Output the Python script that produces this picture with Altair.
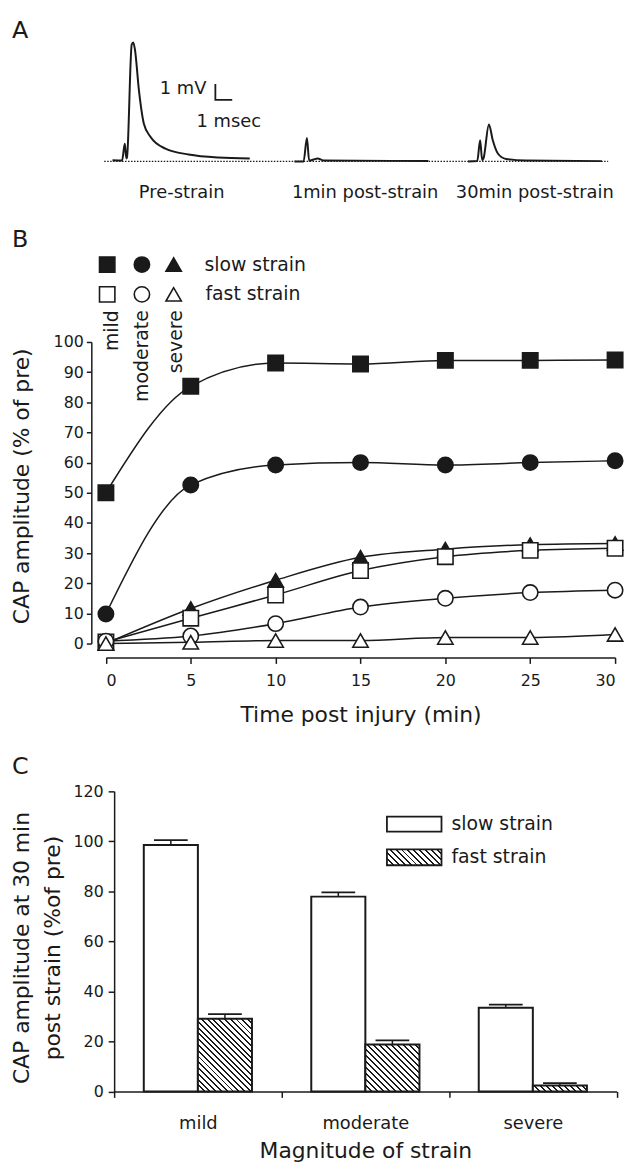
import altair as alt
import pandas as pd

FONT = "DejaVu Sans"
INK = "#1a1a1a"

# ---------------- Panel A: CAP traces (time in ms, amplitude in mV)
pre_t = [0.49, 1.06, 1.22, 1.31, 1.35, 1.63, 1.72, 1.82, 2.06, 2.35, 2.75, 3.63, 5.0, 6.76, 8.63]
pre_v = [0.08, 0.06, 1.12, 0.19, 0.25, 7.37, 7.5, 7.06, 4.46, 2.38, 1.54, 0.81, 0.44, 0.25, 0.19]
m1_t = [11.28, 11.82, 12.02, 12.15, 12.41, 12.65, 13.0, 19.22]
m1_v = [0.0, 0.0, 1.48, 0.05, 0.12, 0.19, 0.06, 0.03]
m30_t = [21.57, 22.12, 22.29, 22.41, 22.49, 22.81, 23.04, 23.34, 23.82, 25.0, 29.51]
m30_v = [0.0, 0.03, 1.33, 0.08, 0.19, 2.33, 1.33, 0.5, 0.16, 0.06, 0.02]
trace_names = ["Pre-strain", "1min post-strain", "30min post-strain"]
trace_label_t = [4.59, 15.47, 25.53]
baseline_t = [0.0, 29.88]
scalebar_t = [6.59, 6.59, 7.59]
scalebar_v = [4.875, 3.875, 3.875]

# ---------------- Panel B: recovery time course (% of pre)
times = [0, 5, 10, 15, 20, 25, 30]
slow_mild = [50.0, 85.3, 93.0, 92.7, 93.9, 93.9, 94.0]
slow_moderate = [9.8, 52.6, 59.2, 60.0, 59.2, 60.0, 60.6]
slow_severe = [0.0, 11.6, 21.0, 28.6, 31.3, 32.8, 33.2]
fast_mild = [0.5, 8.4, 16.1, 24.2, 28.8, 30.9, 31.6]
fast_moderate = [0.8, 2.5, 6.6, 12.1, 15.0, 16.9, 17.7]
fast_severe = [0.0, 0.4, 1.0, 1.0, 2.0, 2.0, 3.0]
severities = ["mild", "moderate", "severe"]
strains = ["slow", "fast"]

# ---------------- Panel C: amplitude at 30 min
slow_30 = [98.5, 77.9, 33.5]
slow_sem = [2.0, 1.7, 1.2]
fast_30 = [29.1, 18.8, 2.4]
fast_sem = [1.8, 1.6, 0.9]

# ---------------- styles / layout (pixels, relative to each plot area)
SHAPES = ["square", "circle", "triangle-up"]
FILLS = [INK, "white"]
common = dict(domainColor=INK, domainWidth=1.5, tickColor=INK, tickWidth=1.5,
              labelFont=FONT, labelColor=INK, titleFont=FONT, titleFontSize=22,
              titleFontWeight="normal", titleColor=INK, grid=False)


def hatch(w, h, spacing=4.2, frac=0.33):
    k = (w + h) / (w * w + h * h)
    n = max(1, round((w + h) / 1.4142 / spacing))
    stops = []
    for i in range(n):
        a, b, c = i / n, (i + frac) / n, (i + 1) / n
        stops += [alt.GradientStop(offset=a, color=INK), alt.GradientStop(offset=b, color=INK),
                  alt.GradientStop(offset=b, color="white"), alt.GradientStop(offset=c, color="white")]
    return alt.LinearGradient(gradient="linear", stops=stops, x1=0, y1=1, x2=k * w, y2=1 - k * h)


def letter(ch, px, py):
    return alt.Chart(pd.DataFrame({"s": [ch]})).mark_text(
        font=FONT, fontSize=24, color=INK, align="left", baseline="alphabetic").encode(
        text="s:N", x=alt.value(px), y=alt.value(py))


def anchor(top, bottom):
    # invisible frame line fixing the layout bounds of a panel
    return alt.Chart(pd.DataFrame({"a": [0]})).mark_rule(opacity=0, strokeOpacity=0).encode(
        x=alt.value(-107), x2=alt.value(-107), y=alt.value(top), y2=alt.value(bottom))


# ================= Panel A
rows = []
for name, ts, vs in [(trace_names[0], pre_t, pre_v), (trace_names[1], m1_t, m1_v), (trace_names[2], m30_t, m30_v)]:
    for i, (t, v) in enumerate(zip(ts, vs)):
        rows.append({"trace": name, "t": t, "v": v, "i": i})
dfA = pd.DataFrame(rows)
sxA = alt.Scale(domain=[0, 29.88], range=[-10, 498], nice=False, zero=False)
syA = alt.Scale(domain=[0, 8], nice=False, zero=False)
xA = alt.X("t:Q", scale=sxA, axis=None)
yA = alt.Y("v:Q", scale=syA, axis=None)

baseA = alt.Chart(pd.DataFrame({"t": [baseline_t[0]], "t2": [baseline_t[1]], "v": [0.0]})).mark_rule(
    color=INK, strokeWidth=1.3, strokeDash=[1.5, 1.5]).encode(x=xA, x2="t2:Q", y=yA)
tracesA = alt.Chart(dfA).mark_line(color=INK, strokeWidth=2, interpolate="monotone").encode(
    x=xA, y=yA, detail="trace:N", order="i:Q")
sbA = alt.Chart(pd.DataFrame({"t": scalebar_t, "v": scalebar_v, "i": [0, 1, 2]})).mark_line(
    color=INK, strokeWidth=1.8).encode(x=xA, y=yA, order="i:Q")
sbTxt1 = alt.Chart(pd.DataFrame({"t": [6.06], "v": [4.56], "s": ["1 mV"]})).mark_text(
    font=FONT, fontSize=18, color=INK, align="right", baseline="middle").encode(x=xA, y=yA, text="s:N")
sbTxt2 = alt.Chart(pd.DataFrame({"t": [5.47], "v": [2.5], "s": ["1 msec"]})).mark_text(
    font=FONT, fontSize=18, color=INK, align="left", baseline="middle").encode(x=xA, y=yA, text="s:N")
labA = alt.Chart(pd.DataFrame({"t": trace_label_t, "v": [-2.0] * 3, "s": trace_names})).mark_text(
    font=FONT, fontSize=18, color=INK, align="center", baseline="middle").encode(x=xA, y=yA, text="s:N")
panelA = alt.layer(anchor(-22, 175), baseA, tracesA, sbA, sbTxt1, sbTxt2, labA,
                   letter("A", -103, 3.5)).properties(width=498, height=128)

# ================= Panel B
rowsB = []
for strain, sev, vals in [("slow", "mild", slow_mild), ("slow", "moderate", slow_moderate),
                          ("slow", "severe", slow_severe), ("fast", "mild", fast_mild),
                          ("fast", "moderate", fast_moderate), ("fast", "severe", fast_severe)]:
    for t, v in zip(times, vals):
        rowsB.append({"time": t, "value": v, "strain": strain, "severity": sev, "series": strain + sev})
dfB = pd.DataFrame(rowsB)
xB = alt.X("time:Q", scale=alt.Scale(domain=[0, 30], range=[-8.3, 505], nice=False),
           axis=alt.Axis(values=times, offset=14, title="Time post injury (min)", tickSize=6,
                         labelFontSize=16, labelPadding=9, titleBaseline="alphabetic", titleY=64.7, **common))
yB = alt.Y("value:Q", scale=alt.Scale(domain=[0, 100], nice=False),
           axis=alt.Axis(values=list(range(0, 101, 10)), offset=23, title="CAP amplitude (% of pre)",
                         tickSize=5, labelFontSize=16, labelPadding=3, titleAngle=270, titleAlign="center",
                         titleBaseline="alphabetic", titleX=-63.7, titleY=145, **common))
linesB = alt.Chart(dfB).mark_line(color=INK, strokeWidth=1.5, interpolate="monotone").encode(
    x=xB, y=yB, detail="series:N")
pointsB = alt.Chart(dfB).mark_point(filled=True, stroke=INK, strokeWidth=1.6, size=240, opacity=1).encode(
    x=xB, y=yB,
    shape=alt.Shape("severity:N", scale=alt.Scale(domain=severities, range=SHAPES), legend=None),
    fill=alt.Fill("strain:N", scale=alt.Scale(domain=strains, range=FILLS), legend=None))

leg_sym_x = [-7, 28, 60]
leg_row_y = [-78, -48]
legB_sym = pd.DataFrame({
    "px": leg_sym_x * 2, "py": [leg_row_y[0]] * 3 + [leg_row_y[1]] * 3,
    "shape": SHAPES * 2, "fill": [FILLS[0]] * 3 + [FILLS[1]] * 3})
legB1 = alt.Chart(legB_sym).mark_point(filled=True, stroke=INK, strokeWidth=1.6, size=240, opacity=1).encode(
    x=alt.X("px:Q", scale=None), y=alt.Y("py:Q", scale=None),
    shape=alt.Shape("shape:N", scale=None), fill=alt.Fill("fill:N", scale=None))
legB2 = alt.Chart(pd.DataFrame({"px": [91, 92], "py": leg_row_y, "s": ["slow strain", "fast strain"]})).mark_text(
    font=FONT, fontSize=19, color=INK, align="left", baseline="middle").encode(
    x=alt.X("px:Q", scale=None), y=alt.Y("py:Q", scale=None), text="s:N")
legB3 = alt.Chart(pd.DataFrame({"px": [-2, 28, 62], "py": [-32] * 3, "s": severities})).mark_text(
    font=FONT, fontSize=19, color=INK, align="right", baseline="middle", angle=270).encode(
    x=alt.X("px:Q", scale=None), y=alt.Y("py:Q", scale=None), text="s:N")
panelB = alt.layer(anchor(-135, 405), linesB, pointsB, legB1, legB2, legB3,
                   letter("B", -103, -96)).properties(width=505, height=304)

# ================= Panel C
dfC = pd.DataFrame({
    "cat": severities * 2, "strain": ["slow"] * 3 + ["fast"] * 3,
    "value": slow_30 + fast_30, "sem": slow_sem + fast_sem})
dfC["upper"] = dfC["value"] + dfC["sem"]
xC = alt.X("cat:N", scale=alt.Scale(domain=severities, paddingInner=0, paddingOuter=0),
           axis=alt.Axis(tickBand="extent", labelAngle=0, title="Magnitude of strain", tickSize=6,
                         labelFontSize=18, labelPadding=17.5, titleBaseline="alphabetic", titleY=67, **common))
xoC = alt.XOffset("strain:N", scale=alt.Scale(domain=strains, paddingInner=0, paddingOuter=0.548))
ysC = alt.Scale(domain=[0, 120], nice=False)
yC = alt.Y("value:Q", scale=ysC,
           axis=alt.Axis(values=list(range(0, 121, 20)), title=["CAP amplitude at 30 min", "post strain (%of pre)"],
                         tickSize=6, labelFontSize=16, labelPadding=5, titleAngle=270, titleAlign="center",
                         titleBaseline="alphabetic", titleX=-86.5, titleY=157.5, titleLineHeight=31.5, **common))
baseC = alt.Chart(dfC)
slowBars = baseC.transform_filter("datum.strain == 'slow'").mark_bar(
    fill="white", stroke=INK, strokeWidth=2).encode(x=xC, xOffset=xoC, y=yC)
fastBars = []
for cat, v in zip(severities, fast_30):
    fastBars.append(baseC.transform_filter(f"datum.strain == 'fast' && datum.cat == '{cat}'").mark_bar(
        fill=hatch(54.5, v * 2.52), stroke=INK, strokeWidth=2).encode(x=xC, xOffset=xoC, y=yC))
errC = baseC.mark_rule(color=INK, strokeWidth=1.5).encode(x=xC, xOffset=xoC, y=yC, y2="upper:Q")
capC = baseC.mark_tick(color=INK, thickness=1.8, size=34, opacity=1).encode(
    x=xC, xOffset=xoC, y=alt.Y("upper:Q", scale=ysC))
legC_box = pd.DataFrame({"px": [275, 275], "px2": [330, 330], "py": [25.5, 58.5], "py2": [40.5, 74.5]})
legC1 = alt.Chart(legC_box.iloc[[0]]).mark_rect(fill="white", stroke=INK, strokeWidth=1.8).encode(
    x=alt.X("px:Q", scale=None), x2="px2:Q", y=alt.Y("py:Q", scale=None), y2="py2:Q")
legC2 = alt.Chart(legC_box.iloc[[1]]).mark_rect(fill=hatch(55, 16), stroke=INK, strokeWidth=1.8).encode(
    x=alt.X("px:Q", scale=None), x2="px2:Q", y=alt.Y("py:Q", scale=None), y2="py2:Q")
legC3 = alt.Chart(pd.DataFrame({"px": [340, 340], "py": [33, 66], "s": ["slow strain", "fast strain"]})).mark_text(
    font=FONT, fontSize=19, color=INK, align="left", baseline="middle").encode(
    x=alt.X("px:Q", scale=None), y=alt.Y("py:Q", scale=None), text="s:N")
panelC = alt.layer(anchor(-47.5, 0), slowBars, *fastBars, errC, capC, legC1, legC2, legC3,
                   letter("C", -103, -17.5)).properties(width=506.5, height=302.5)

chart = alt.vconcat(panelA, panelB, panelC, spacing=0).properties(
    padding={"left": 0, "top": 0, "right": 0, "bottom": 0}
).configure(font=FONT, background="white").configure_view(stroke=None)

chart.save("out.html", embed_options={"renderer": "svg", "actions": False})
